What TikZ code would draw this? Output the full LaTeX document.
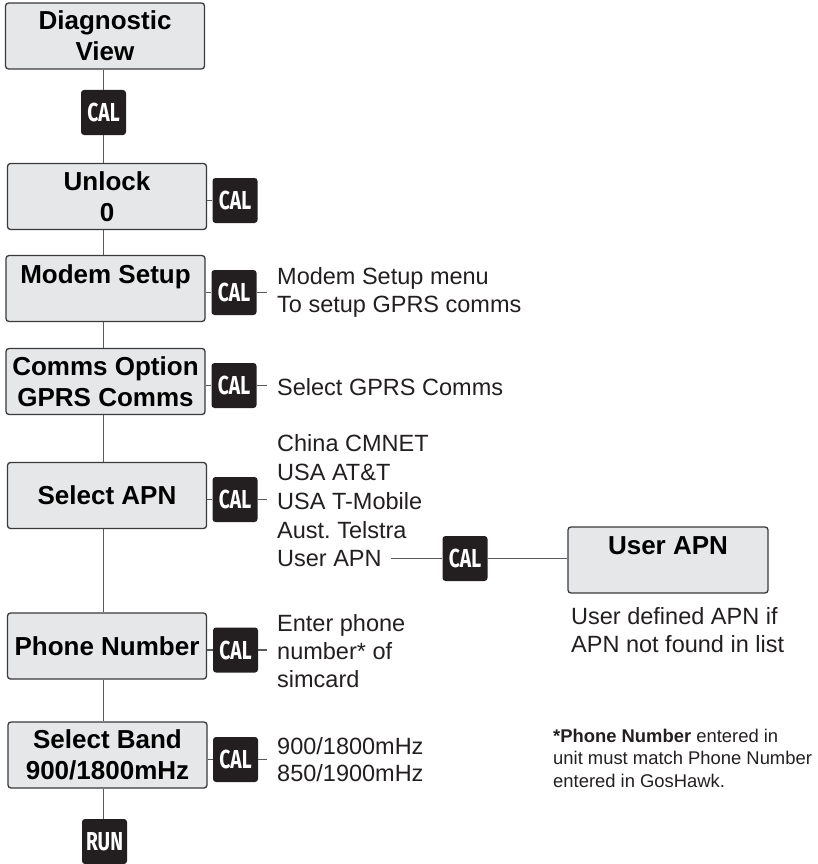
\documentclass[tikz,border=0pt]{standalone}
\usepackage{fontspec}
\usepackage{graphicx}
\setmainfont{Liberation Sans}
\newfontfamily\calfont{Fira Sans}
\definecolor{boxfill}{HTML}{E6E7E8}
\definecolor{boxline}{HTML}{3A3A3C}
\definecolor{badgefill}{HTML}{231F20}
\definecolor{linecol}{HTML}{58595B}
\definecolor{txt}{HTML}{231F20}
\newcommand{\calt}[1]{\scalebox{0.74}[1]{#1}}
\frenchspacing
\begin{document}
\begin{tikzpicture}[x=1pt,y=-1pt,
  box/.style={draw=boxline, fill=boxfill, line width=1.3pt, rounded corners=3pt,
    minimum width=199pt, minimum height=66pt, inner sep=0pt, align=center,
    font=\fontsize{26}{31}\selectfont\bfseries, text=black},
  badge/.style={fill=badgefill, rounded corners=3pt, minimum width=45pt,
    minimum height=45pt, inner sep=0pt, text=white,
    font=\calfont\bfseries\fontsize{26}{26}\selectfont},
  desc/.style={anchor=west, align=left, inner sep=0pt,
    font=\fontsize{23.5}{28}\selectfont, text=txt},
  conn/.style={draw=linecol, line width=1.3pt}]
\useasboundingbox (0,0) rectangle (817,864);

% main boxes
\node[box] (b1) at (105,36) {Diagnostic\\View};
\node[box] (b2) at (107,196.5) {Unlock\\0};
\node[box] (b3) at (105.5,288.5) {Modem Setup\\[-2pt]~};
\node[box] (b4) at (105.5,381.5) {Comms Option\\GPRS Comms};
\node[box] (b5) at (107,495.5) {Select APN};
\node[box] (b6) at (107,646) {Phone Number};
\node[box] (b7) at (107.5,755) {Select Band\\900/1800mHz};
\node[box, minimum width=200pt] (ua) at (668,560) {User APN\\[-2pt]~};

% badges
\node[badge] (c1) at (103.5,112.5) {\calt{CAL}};
\node[badge] (c2) at (235,200.5) {\calt{CAL}};
\node[badge] (c3) at (234,292.5) {\calt{CAL}};
\node[badge] (c4) at (234,385.5) {\calt{CAL}};
\node[badge] (c5) at (235,499.5) {\calt{CAL}};
\node[badge] (c6) at (465,558.5) {\calt{CAL}};
\node[badge] (c7) at (235.5,650) {\calt{CAL}};
\node[badge] (c8) at (235.5,759.5) {\calt{CAL}};
\node[badge] (run) at (104.5,841.5) {\calt{RUN}};

% descriptions
\node[desc] (d3) at (277,292) {Modem Setup menu\\To setup GPRS comms};
\node[desc] (d4) at (277,387) {Select GPRS Comms};
\node[desc, font=\fontsize{23.5}{28.75}\selectfont] (d5) at (277,501) {China CMNET\\USA AT\&T\\USA T-Mobile\\Aust.\ Telstra\\User APN};
\node[desc] (d6) at (277,651) {Enter phone\\number* of\\simcard};
\node[desc, font=\fontsize{23.5}{27}\selectfont] (d7) at (277,760) {900/1800mHz\\850/1900mHz};
\node[desc] (ud) at (571,630) {User defined APN if\\APN not found in list};
\node[desc, font=\fontsize{18.4}{22.5}\selectfont] (fn) at (553,758) {\textbf{*Phone Number} entered in\\unit must match Phone Number\\entered in GosHawk.};
\coordinate (uend) at (391,558.5);

% trunk
\draw[conn] (b1.south -| c1) -- (c1.north);
\draw[conn] (c1.south) -- (b2.north -| c1);
\draw[conn] (b2.south -| c1) -- (b3.north -| c1);
\draw[conn] (b3.south -| c1) -- (b4.north -| c1);
\draw[conn] (b4.south -| c1) -- (b5.north -| c1);
\draw[conn] (b5.south -| c1) -- (b6.north -| c1);
\draw[conn] (b6.south -| c1) -- (b7.north -| c1);
\draw[conn] (b7.south -| c1) -- (run.north -| c1);

% side connectors
\draw[conn] (b2.east |- c2) -- (c2.west);
\draw[conn] (b3.east |- c3) -- (c3.west);
\draw[conn] (b4.east |- c4) -- (c4.west);
\draw[conn] (b5.east |- c5) -- (c5.west);
\draw[conn] (b6.east |- c7) -- (c7.west);
\draw[conn] (b7.east |- c8) -- (c8.west);
\draw[conn, shorten >=10pt] (c3.east) -- (c3 -| d3.west);
\draw[conn, shorten >=10pt] (c4.east) -- (c4 -| d4.west);
\draw[conn, shorten >=10pt] (c5.east) -- (c5 -| d5.west);
\draw[conn, shorten >=10pt] (c7.east) -- (c7 -| d6.west);
\draw[conn, shorten >=10pt] (c8.east) -- (c8 -| d7.west);
\draw[conn] (uend) -- (c6.west);
\draw[conn] (c6.east) -- (ua.west |- c6);
\end{tikzpicture}
\end{document}
